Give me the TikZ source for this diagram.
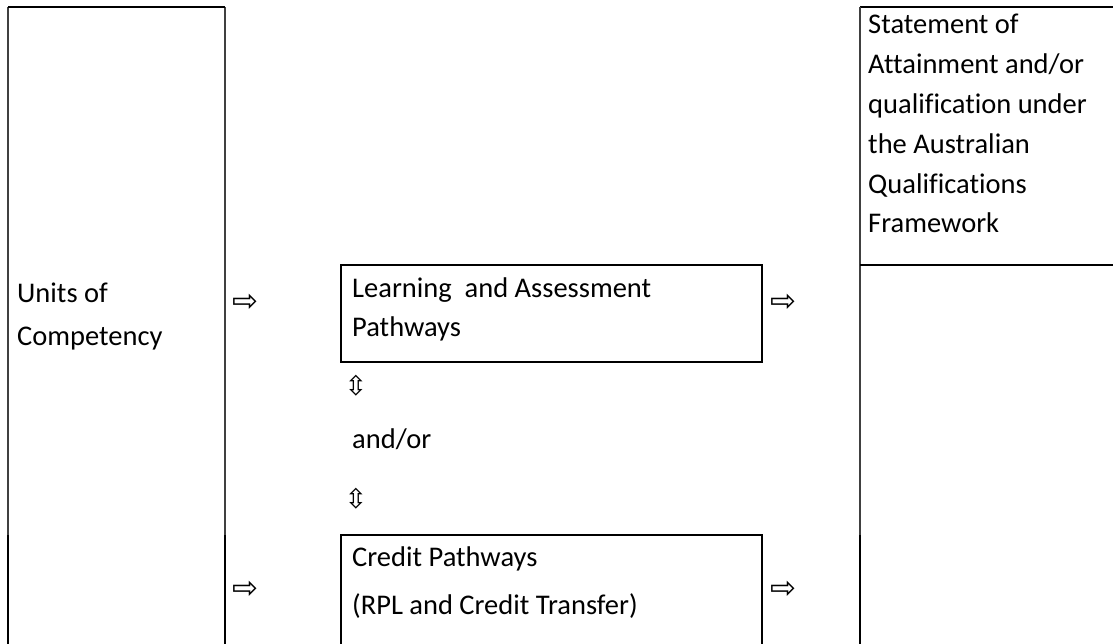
\documentclass[tikz,border=0pt]{standalone}
\usepackage{fontspec}
\setmainfont{Carlito}[Ligatures=CommonOff]
\newfontfamily\arrowfont{DejaVu Sans}
\usetikzlibrary{positioning}

\tikzset{
  celltext/.style={anchor=base west, inner sep=0pt, font=\fontsize{28.5}{39}\selectfont},
  arrowglyph/.style={anchor=center, inner sep=0pt, font=\arrowfont\fontsize{31}{31}\selectfont},
  updownglyph/.style={anchor=center, inner sep=0pt, font=\arrowfont\fontsize{27}{27}\selectfont},
  rule/.style={draw=black!75, line width=1.3pt},
  rulebold/.style={draw=black, line width=1.8pt},
  boxline/.style={draw=black, line width=1.1pt},
}

\begin{document}
\begin{tikzpicture}[x=1pt, y=-1pt]

    \useasboundingbox (0,0) rectangle (1113,644);

    % constants
    \def\ytop{7}
    \def\ybot{644}
    \def\ysplit{535}

    % units column
    \draw[rule] (8,\ybot) -- (8,\ytop);
    \draw[rule] (225,\ytop) -- (225,\ybot);
    \draw[boxline] (8,\ytop) -- (225,\ytop);
    \draw[rulebold] (8,\ysplit) -- (8,\ybot);
    \draw[rulebold] (225,\ysplit) -- (225,\ybot);

    \node[celltext] (units1) at (17,302) {Units of};
    \node[celltext] (units2) at (17,345) {Competency};

    % learning and assessment box
    \draw[boxline] (341,265) rectangle (762,362);
    \node[celltext] (learn1) at (352,297) {Learning \ and Assessment};
    \node[celltext] (learn2) at (352,336) {Pathways};

    % and/or between the pathways
    \node[updownglyph] (updown1) at (356,386) {⇳};
    \node[celltext] (andor) at (352,448) {and/or};
    \node[updownglyph] (updown2) at (356,499) {⇳};

    % credit box
    \draw[rulebold] (341,\ybot) -- (341,535) -- (762,535) -- (762,\ybot);
    \node[celltext] (credit1) at (352,566) {Credit Pathways};
    \node[celltext] (credit2) at (352,614) {(RPL and Credit Transfer)};

    % arrows
    \node[arrowglyph] (inlearn) at (245,303) {⇨};
    \node[arrowglyph] (incredit) at (245,590) {⇨};
    \node[arrowglyph] (outlearn) at (783,303) {⇨};
    \node[arrowglyph] (outcredit) at (783,590) {⇨};

    % statement column
    \draw[boxline] (860,\ytop) -- (1113,\ytop);
    \draw[rule] (860,\ytop) -- (860,\ybot);
    \draw[boxline] (860,265) -- (1113,265);
    \draw[rulebold] (860,\ysplit) -- (860,\ybot);

    \foreach \txt [count=\i] in {Statement of, Attainment and/or, qualification under, the Australian, Qualifications, Framework}
        \node[celltext] (stmt\i) at (868,{34+39.8*(\i-1)}) {\txt};

\end{tikzpicture}
\end{document}
